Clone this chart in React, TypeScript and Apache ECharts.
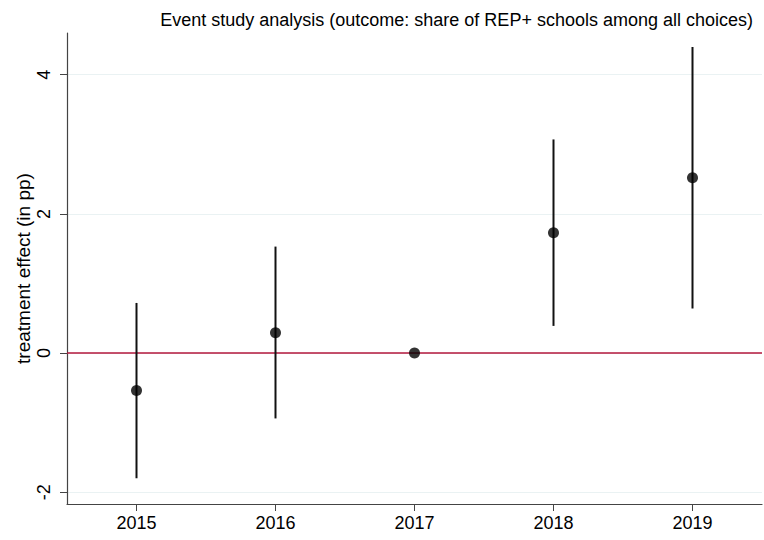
import React, { useEffect, useRef } from "react";
import * as echarts from "echarts";

const years = [2015, 2016, 2017, 2018, 2019];
const estimates = [-0.54, 0.29, 0.0, 1.73, 2.52];
const ciLow = [-1.8, -0.94, 0.0, 0.39, 0.64];
const ciHigh = [0.72, 1.53, 0.0, 3.07, 4.4];
const yTicks = [-2, 0, 2, 4];
const titleText = "Event study analysis (outcome: share of REP+ schools among all choices)";
const yAxisTitle = "treatment effect (in pp)";

export default function App() {
  const ref = useRef<HTMLDivElement>(null);
  useEffect(() => {
    if (!ref.current) return;
    const chart = echarts.init(ref.current, null, { renderer: "svg" });
    const font = "Liberation Sans, Arial, sans-serif";
    const ciData = years
      .map((y, i) => [y, ciLow[i], ciHigh[i]])
      .filter((d) => d[1] !== d[2]);
    chart.setOption({
      animation: false,
      backgroundColor: "#ffffff",
      title: {
        text: titleText,
        right: 11,
        top: 11,
        padding: 0,
        textStyle: { fontFamily: font, fontSize: 18, fontWeight: "normal", color: "#000" },
      },
      grid: { left: 67, right: 2, top: 33, bottom: 36 },
      xAxis: {
        type: "value",
        min: 2014.5,
        max: 2019.5,
        axisLine: { show: true, onZero: false, lineStyle: { color: "#444", width: 1.2 } },
        axisTick: { show: true, length: 7, lineStyle: { color: "#444" }, customValues: years },
        axisLabel: {
          customValues: years,
          fontFamily: font,
          fontSize: 18,
          color: "#000",
          margin: 10,
          formatter: (v: number) => String(v),
        },
        splitLine: { show: false },
      },
      yAxis: {
        type: "value",
        min: -2.17,
        max: 4.6,
        name: yAxisTitle,
        nameLocation: "middle",
        nameRotate: 90,
        nameGap: 34,
        nameMoveOverlap: false,
        nameTextStyle: { fontFamily: font, fontSize: 19, color: "#000" },
        axisLine: { show: true, onZero: false, lineStyle: { color: "#444", width: 1.2 } },
        axisTick: { show: true, length: 7, lineStyle: { color: "#444" }, customValues: yTicks },
        axisLabel: {
          customValues: yTicks,
          rotate: 90,
          fontFamily: font,
          fontSize: 18,
          color: "#000",
          margin: 14,
        },
        splitLine: { show: true, lineStyle: { color: "#eaf2f3", width: 1.2 } },
      },
      series: [
        {
          type: "custom",
          data: ciData,
          renderItem: (params: any, api: any) => {
            const x = api.value(0);
            const p1 = api.coord([x, api.value(1)]);
            const p2 = api.coord([x, api.value(2)]);
            return {
              type: "line",
              shape: { x1: p1[0], y1: p1[1], x2: p2[0], y2: p2[1] },
              style: { stroke: "#111", lineWidth: 2 },
            };
          },
          z: 3,
        },
        {
          type: "scatter",
          data: years.map((y, i) => [y, estimates[i]]),
          symbol: "circle",
          symbolSize: 11,
          itemStyle: { color: "#000" },
          z: 5,
          markLine: {
            silent: true,
            symbol: "none",
            label: { show: false },
            lineStyle: { color: "#b3173d", width: 1.6, type: "solid" },
            data: [{ yAxis: 0 }],
            z: 2,
          },
        },
      ],
    });
    return () => chart.dispose();
  }, []);
  return (
    <div
      ref={ref}
      style={{ position: "absolute", left: 0, top: 0, width: 764, height: 540 }}
    />
  );
}
